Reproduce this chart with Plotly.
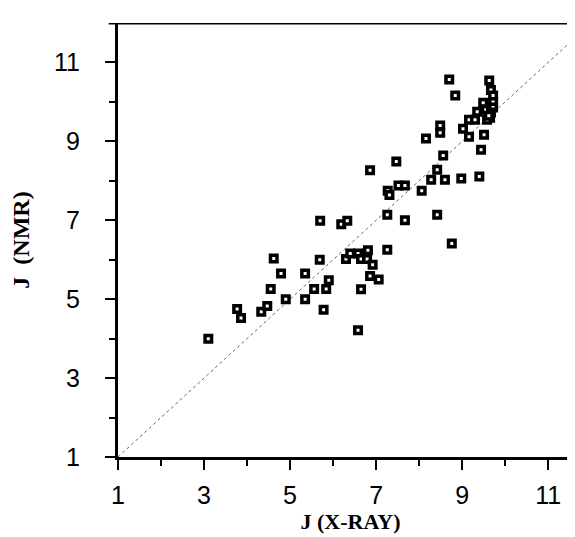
import plotly.graph_objects as go

# J (X-RAY) values and J (NMR) values
j_xray = [3.10, 3.77, 3.86, 4.33, 4.47, 4.55, 4.62, 4.79, 4.90, 5.35,
          5.35, 5.56, 5.69, 5.70, 5.78, 5.84, 5.90, 6.19, 6.33, 6.30,
          6.40, 6.58, 6.79, 6.81, 6.65, 6.79, 6.92, 6.58, 6.65, 6.86,
          7.06, 6.86, 7.26, 7.26, 7.27, 7.31, 7.47, 7.52, 7.67, 7.67,
          8.06, 8.16, 8.28, 8.42, 8.42, 8.49, 8.49, 8.56, 8.60, 8.70,
          8.76, 8.84, 8.98, 9.02, 9.16, 9.16, 9.30, 9.35, 9.40, 9.44,
          9.51, 9.49, 9.55, 9.63, 9.67, 9.72, 9.72, 9.72, 9.67, 9.65,
          9.58, 9.62]
j_nmr = [4.00, 4.75, 4.52, 4.68, 4.83, 5.26, 6.03, 5.65, 5.00, 5.00,
         5.65, 5.26, 6.00, 6.99, 4.73, 5.26, 5.48, 6.90, 6.99, 6.02,
         6.16, 6.16, 6.16, 6.24, 6.02, 6.02, 5.87, 4.21, 5.25, 5.59,
         5.50, 8.27, 7.14, 6.25, 7.75, 7.64, 8.49, 7.88, 7.88, 7.00,
         7.75, 9.07, 8.03, 8.28, 7.14, 9.40, 9.22, 8.64, 8.03, 10.57,
         6.41, 10.16, 8.06, 9.32, 9.12, 9.55, 9.55, 9.75, 8.11, 8.79,
         9.17, 9.98, 9.80, 10.54, 10.30, 10.16, 10.00, 9.86, 9.73, 9.60,
         9.55, 9.65]

identity = [1, 12]
major_ticks = [1, 3, 5, 7, 9, 11]
minor_ticks = [2, 4, 6, 8, 10]

fig = go.Figure()
fig.add_trace(go.Scatter(x=identity, y=identity, mode="lines",
                         line=dict(color="#666666", width=1, dash="dot"),
                         hoverinfo="skip", showlegend=False))
fig.add_trace(go.Scatter(x=j_xray, y=j_nmr, mode="markers",
                         marker=dict(symbol="square", size=6.5, color="white",
                                     line=dict(color="black", width=3.5)),
                         showlegend=False))

axis_common = dict(
    tickmode="array", tickvals=major_ticks,
    ticktext=[str(v) for v in major_ticks],
    ticks="outside", ticklen=10, tickwidth=2, tickcolor="black",
    showline=True, linecolor="black", linewidth=3,
    showgrid=False, zeroline=False,
    tickfont=dict(family="Liberation Sans, Arial", size=25, color="black"),
    minor=dict(tickvals=minor_ticks, ticks="outside", ticklen=6,
               tickwidth=2, tickcolor="black", showgrid=False),
)

fig.update_xaxes(range=[1, 11.81], **axis_common, ticklabelstandoff=4,
                 title=dict(text="<b>J (X-RAY)</b>", standoff=6,
                            font=dict(family="Liberation Serif, Times New Roman",
                                      size=22, color="black")))
fig.update_yaxes(range=[1, 12.0], **axis_common, ticklabelstandoff=20,
                 title=dict(text="<b>J  (NMR)</b>", standoff=22,
                            font=dict(family="Liberation Serif, Times New Roman",
                                      size=24, color="black")))

fig.add_shape(type="line", xref="paper", yref="y", x0=-0.02, x1=1, y0=12, y1=12,
              line=dict(color="black", width=3))

fig.update_layout(width=575, height=537,
                  margin=dict(l=110, r=0, t=15, b=88),
                  paper_bgcolor="white", plot_bgcolor="white")

fig.write_html("out.html")
